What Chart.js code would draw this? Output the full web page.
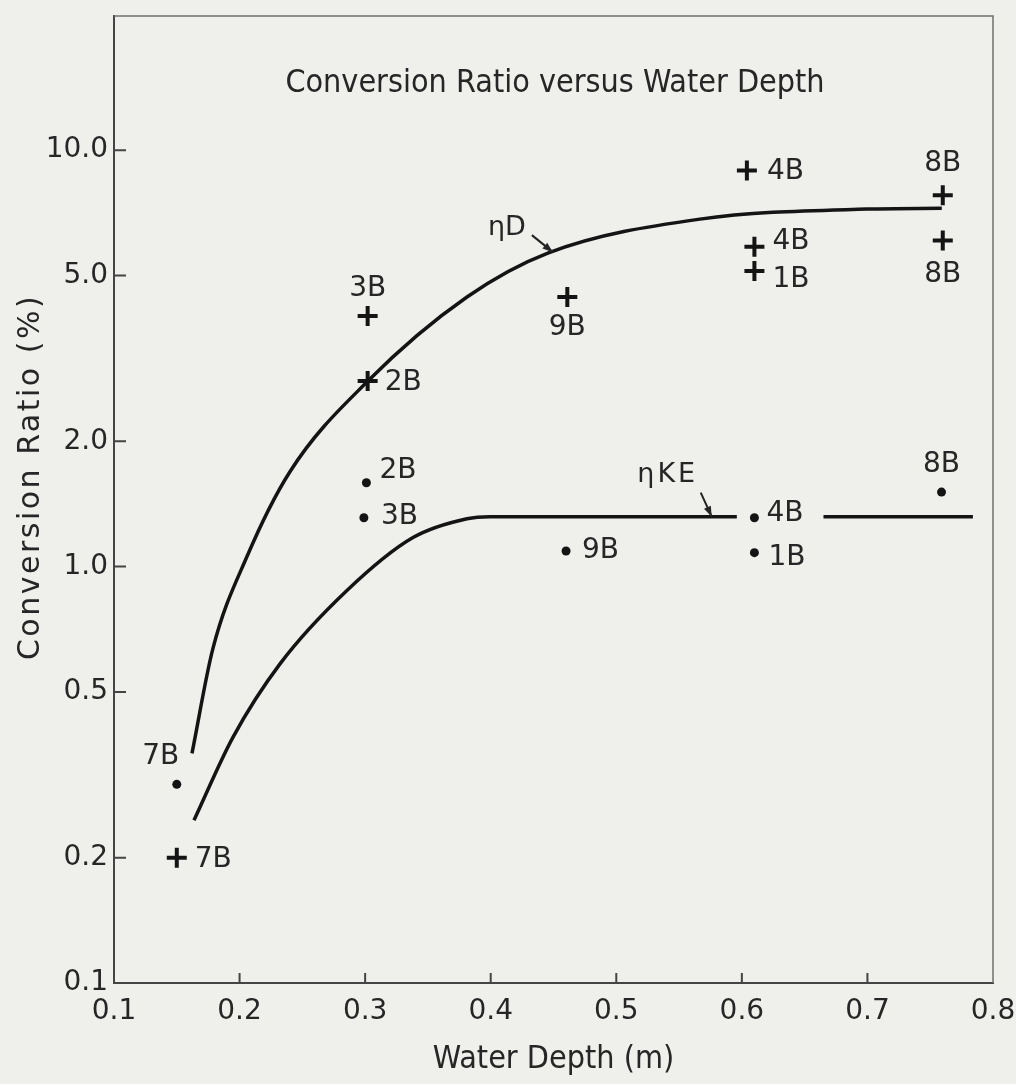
<!DOCTYPE html>
<html>
<head>
<meta charset="utf-8">
<title>Conversion Ratio versus Water Depth</title>
<script src="https://cdn.jsdelivr.net/npm/chart.js@4"></script>
<style>
  html, body { margin: 0; padding: 0; background: #efefec; }
  #wrap { width: 1016px; height: 1084px; }
</style>
</head>
<body>
<div id="wrap"><canvas id="chart" width="1016" height="1084"></canvas></div>
<script>
const xTicks = [0.1, 0.2, 0.3, 0.4, 0.5, 0.6, 0.7, 0.8];
const yTicks = [0.1, 0.2, 0.5, 1.0, 2.0, 5.0, 10.0];

// "+" points (eta D)
const plusName = ['7B', '2B', '3B', '9B', '4B', '4B', '1B', '8B', '8B'];
const plusX = [0.15, 0.302, 0.302, 0.461, 0.604, 0.61, 0.61, 0.76, 0.76];
const plusY = [0.2, 2.79, 4.0, 4.44, 8.94, 5.86, 5.13, 7.79, 6.07];

// "." points (eta KE)
const dotName = ['7B', '2B', '3B', '9B', '4B', '1B', '8B'];
const dotX = [0.15, 0.301, 0.299, 0.46, 0.61, 0.61, 0.759];
const dotY = [0.30, 1.59, 1.31, 1.09, 1.31, 1.08, 1.51];

// fitted curves
const etaDX = [0.1621, 0.1788, 0.2059, 0.2401, 0.3022, 0.3811, 0.4455, 0.5666, 0.6995, 0.7592];
const etaDY = [0.356, 0.636, 1.057, 1.69, 2.79, 4.44, 5.66, 6.83, 7.22, 7.25];
const etaKEX = [0.1637, 0.1947, 0.2322, 0.2855, 0.3381, 0.3811, 0.3994, 0.596, 0.63, 0.665, 0.784];
const etaKEY = [0.246, 0.389, 0.584, 0.876, 1.174, 1.303, 1.318, 1.318, null, 1.318, 1.318];

const curveLabels = ['\u03B7D', '\u03B7KE'];
const curveTipX = [0.4495, 0.576];
const curveTipY = [5.69, 1.318];

const FONT = "'DejaVu Sans', Verdana, sans-serif";
const FONT_NARROW = "'DejaVu Sans Condensed', 'DejaVu Sans', sans-serif";
const INK = '#262626';

const toPoints = (xs, ys) => xs.map((v, i) => ({ x: v, y: ys[i] }));

// where each point label sits relative to its marker
const plusLabelPos = [[18, 2, 'left'], [17, 2, 'left'], [0, -27, 'center'], [0, 31, 'center'], [20, 1, 'left'],
                      [18, -5, 'left'], [18, 9, 'left'], [0, -32, 'center'], [0, 34, 'center']];
const dotLabelPos = [[-16, -28, 'center'], [13, -12, 'left'], [17, -1, 'left'], [16, 0, 'left'],
                     [12, -4, 'left'], [14, 5, 'left'], [0, -27, 'center']];
// label centre and arrow start, relative to arrow tip
const curveLabelPos = [[-46, -24, -21, -17], [-44, -42, -11, -24]];

const annotate = {
  id: 'annotate',
  beforeDraw(chart) {
    const ctx = chart.ctx;
    ctx.save();
    ctx.fillStyle = '#efefec';
    ctx.fillRect(0, 0, chart.width, chart.height);
    ctx.restore();
  },
  afterDraw(chart) {
    const { ctx, chartArea: a, scales: { x, y } } = chart;
    ctx.save();

    // top and right frame
    ctx.strokeStyle = '#707070';
    ctx.lineWidth = 1.5;
    ctx.beginPath();
    ctx.moveTo(a.left, a.top);
    ctx.lineTo(a.right, a.top);
    ctx.lineTo(a.right, a.bottom);
    ctx.stroke();

    // inward tick marks
    ctx.strokeStyle = '#444';
    ctx.lineWidth = 2;
    ctx.beginPath();
    xTicks.slice(1, -1).forEach(v => {
      const px = x.getPixelForValue(v);
      ctx.moveTo(px, a.bottom);
      ctx.lineTo(px, a.bottom - 10);
    });
    yTicks.slice(1).forEach(v => {
      const py = y.getPixelForValue(v);
      ctx.moveTo(a.left, py);
      ctx.lineTo(a.left + 12, py);
    });
    ctx.stroke();

    // title inside the plot
    ctx.fillStyle = INK;
    ctx.textAlign = 'center';
    ctx.textBaseline = 'middle';
    ctx.font = '32px ' + FONT_NARROW;
    ctx.fillText('Conversion Ratio versus Water Depth', 555, 84);

    // y axis title
    ctx.save();
    ctx.translate(31, 477);
    ctx.rotate(-Math.PI / 2);
    ctx.font = '30px ' + FONT;
    ctx.letterSpacing = '2.5px';
    ctx.fillText('Conversion Ratio (%)', 0, 0);
    ctx.restore();

    // point labels
    ctx.font = '28px ' + FONT;
    plusName.forEach((t, i) => {
      const p = plusLabelPos[i];
      ctx.textAlign = p[2];
      ctx.fillText(t, x.getPixelForValue(plusX[i]) + p[0], y.getPixelForValue(plusY[i]) + p[1]);
    });
    dotName.forEach((t, i) => {
      const p = dotLabelPos[i];
      ctx.textAlign = p[2];
      ctx.fillText(t, x.getPixelForValue(dotX[i]) + p[0], y.getPixelForValue(dotY[i]) + p[1]);
    });

    // curve names with arrows
    ctx.font = '27px ' + FONT;
    ctx.textAlign = 'center';
    ctx.strokeStyle = '#222';
    ctx.fillStyle = INK;
    ctx.lineWidth = 2;
    curveLabels.forEach((t, i) => {
      const tx = x.getPixelForValue(curveTipX[i]);
      const ty = y.getPixelForValue(curveTipY[i]);
      const p = curveLabelPos[i];
      ctx.letterSpacing = i === 1 ? '3px' : '0px';
      ctx.fillText(t, tx + p[0], ty + p[1]);
      const sx = tx + p[2], sy = ty + p[3];
      ctx.beginPath();
      ctx.moveTo(sx, sy);
      ctx.lineTo(tx, ty);
      ctx.stroke();
      const ang = Math.atan2(ty - sy, tx - sx);
      ctx.beginPath();
      ctx.moveTo(tx, ty);
      ctx.lineTo(tx - 11 * Math.cos(ang - 0.35), ty - 11 * Math.sin(ang - 0.35));
      ctx.lineTo(tx - 11 * Math.cos(ang + 0.35), ty - 11 * Math.sin(ang + 0.35));
      ctx.closePath();
      ctx.fill();
    });

    ctx.restore();
  }
};

new Chart(document.getElementById('chart'), {
  type: 'scatter',
  data: {
    datasets: [{
      label: 'etaD',
      data: toPoints(etaDX, etaDY),
      showLine: true,
      cubicInterpolationMode: 'monotone',
      borderColor: '#141414',
      borderWidth: 3.5,
      pointRadius: 0
    }, {
      label: 'etaKE',
      data: toPoints(etaKEX, etaKEY),
      showLine: true,
      spanGaps: false,
      cubicInterpolationMode: 'monotone',
      borderColor: '#141414',
      borderWidth: 3.5,
      pointRadius: 0
    }, {
      label: 'plus',
      data: toPoints(plusX, plusY),
      pointStyle: 'cross',
      pointRadius: 10,
      pointBorderWidth: 4,
      borderColor: '#141414'
    }, {
      label: 'dots',
      data: toPoints(dotX, dotY),
      pointStyle: 'circle',
      pointRadius: 4.5,
      pointBorderWidth: 0,
      backgroundColor: '#141414'
    }]
  },
  options: {
    responsive: false,
    animation: false,
    layout: { padding: { top: 16, right: 23, left: 0, bottom: 0 } },
    plugins: {
      legend: { display: false },
      tooltip: { enabled: false }
    },
    scales: {
      x: {
        type: 'linear',
        min: 0.1,
        max: 0.8,
        afterBuildTicks: s => { s.ticks = xTicks.map(v => ({ value: v })); },
        afterFit: s => { s.height = 101; s.paddingLeft = 0; s.paddingRight = 0; },
        grid: { display: false, drawTicks: false },
        border: { display: true, color: '#444', width: 2 },
        ticks: {
          callback: v => Number(v).toFixed(1),
          font: { family: FONT, size: 28 },
          color: INK,
          padding: 12,
          maxRotation: 0
        },
        title: {
          display: true,
          text: 'Water Depth (m)',
          font: { family: FONT_NARROW, size: 32 },
          color: INK,
          padding: { top: 0, bottom: 5 }
        }
      },
      y: {
        type: 'logarithmic',
        min: 0.1,
        max: 21,
        afterBuildTicks: s => { s.ticks = yTicks.map(v => ({ value: v })); },
        afterFit: s => { s.width = 114; s.paddingTop = 0; s.paddingBottom = 0; },
        grid: { display: false, drawTicks: false },
        border: { display: true, color: '#444', width: 2 },
        ticks: {
          callback: v => Number(v).toFixed(1),
          font: { family: FONT, size: 28 },
          color: INK,
          padding: 6
        }
      }
    }
  },
  plugins: [annotate]
});
</script>
</body>
</html>
